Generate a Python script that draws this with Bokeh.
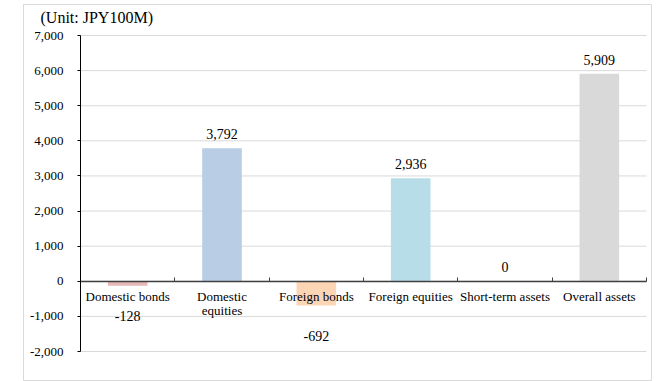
from bokeh.plotting import figure
from bokeh.models import Range1d, FixedTicker, NumeralTickFormatter, ColumnDataSource, Label
from bokeh.embed import file_html
from bokeh.resources import INLINE
from bokeh.core.properties import value

categories = ["Domestic bonds", "Domestic\nequities", "Foreign bonds", "Foreign equities", "Short-term assets", "Overall assets"]
values = [-128, 3792, -692, 2936, 0, 5909]
value_labels = ["-128", "3,792", "-692", "2,936", "0", "5,909"]
colors = ["#E6B9B8", "#B9CDE5", "#FCD5B5", "#B7DEE8", "#CCC1DA", "#D9D9D9"]
y_ticks = [-2000, -1000, 0, 1000, 2000, 3000, 4000, 5000, 6000, 7000]
unit_text = "(Unit: JPY100M)"

n = len(categories)
centers = [i + 0.5 for i in range(n)]
bounds = [float(i) for i in range(n + 1)]
offsets = [-14 if v >= 0 else 30 for v in values]
y_lo, y_hi = min(y_ticks), max(y_ticks)

# pixel layout: chart-area (frame) box and plot-area box inside it
W, H = 660, 381
CA_L, CA_R, CA_T, CA_B = 23, 651, 4, 381      # chart-area border
PA_L, PA_R, PA_T, PA_B = 80, 646, 35, 351     # plot area
xs = (PA_R - PA_L) / n
ys = (PA_B - PA_T) / (y_hi - y_lo)
x_range = Range1d(-(PA_L - CA_L) / xs, n + (CA_R - PA_R) / xs)
y_range = Range1d(y_lo - (CA_B - PA_B) / ys, y_hi + (PA_T - CA_T) / ys)

src = ColumnDataSource(dict(x=centers, top=values, color=colors, lab=value_labels, off=offsets))
grid_src = ColumnDataSource(dict(x0=[0] * len(y_ticks), x1=[n] * len(y_ticks), y=y_ticks))

FONT = "Liberation Serif"

p = figure(width=W, height=H, output_backend="svg", toolbar_location=None,
           x_range=x_range, y_range=y_range,
           min_border_left=CA_L, min_border_right=W - CA_R, min_border_top=CA_T,
           min_border_bottom=H - CA_B)
p.outline_line_color = "#D9D9D9"
p.outline_line_width = 1
p.background_fill_color = "white"
p.border_fill_color = "white"
p.grid.visible = False

# gridlines over the plot area only
p.segment(x0="x0", x1="x1", y0="y", y1="y", source=grid_src, line_color="#D9D9D9", line_width=1)

p.vbar(x="x", top="top", bottom=0, width=0.42, fill_color="color", line_color=None, source=src)

p.text(x="x", y="top", text="lab", y_offset="off", source=src, text_align="center",
       text_baseline="middle", text_font=value(FONT), text_font_size="14px", text_color="#000000")

p.add_layout(Label(x=0, y=y_hi, x_offset=-40, y_offset=18, text=unit_text,
                   text_font=FONT, text_font_size="16px", text_color="#000000",
                   text_baseline="middle", text_align="left"))

# y axis
p.yaxis.fixed_location = 0
p.yaxis.bounds = (y_lo, y_hi)
p.yaxis.ticker = FixedTicker(ticks=y_ticks)
p.yaxis.formatter = NumeralTickFormatter(format="0,0")
p.yaxis.major_label_text_font = FONT
p.yaxis.major_label_text_font_size = "13px"
p.yaxis.major_label_text_color = "#000000"
p.yaxis.axis_line_color = "#000000"
p.yaxis.major_tick_line_color = "#000000"
p.yaxis.major_tick_out = 3
p.yaxis.major_tick_in = 0
p.yaxis.minor_tick_line_color = None
p.yaxis.major_label_standoff = 14

# x axis at zero
p.xaxis.fixed_location = 0
p.xaxis.bounds = (0, n)
p.xaxis.ticker = FixedTicker(ticks=centers, minor_ticks=bounds)
p.xaxis.major_label_overrides = {c: lab for c, lab in zip(centers, categories)}
p.xaxis.axis_line_color = "#404040"
p.xaxis.axis_line_width = 1.5
p.xaxis.major_tick_line_color = None
p.xaxis.minor_tick_line_color = "#404040"
p.xaxis.minor_tick_in = 4
p.xaxis.minor_tick_out = 0
p.xaxis.major_label_text_font = FONT
p.xaxis.major_label_text_font_size = "13px"
p.xaxis.major_label_text_color = "#000000"
p.xaxis.major_label_standoff = 2
p.xaxis.major_label_text_line_height = 0.9

open("out.html", "w").write(file_html(p, INLINE))
